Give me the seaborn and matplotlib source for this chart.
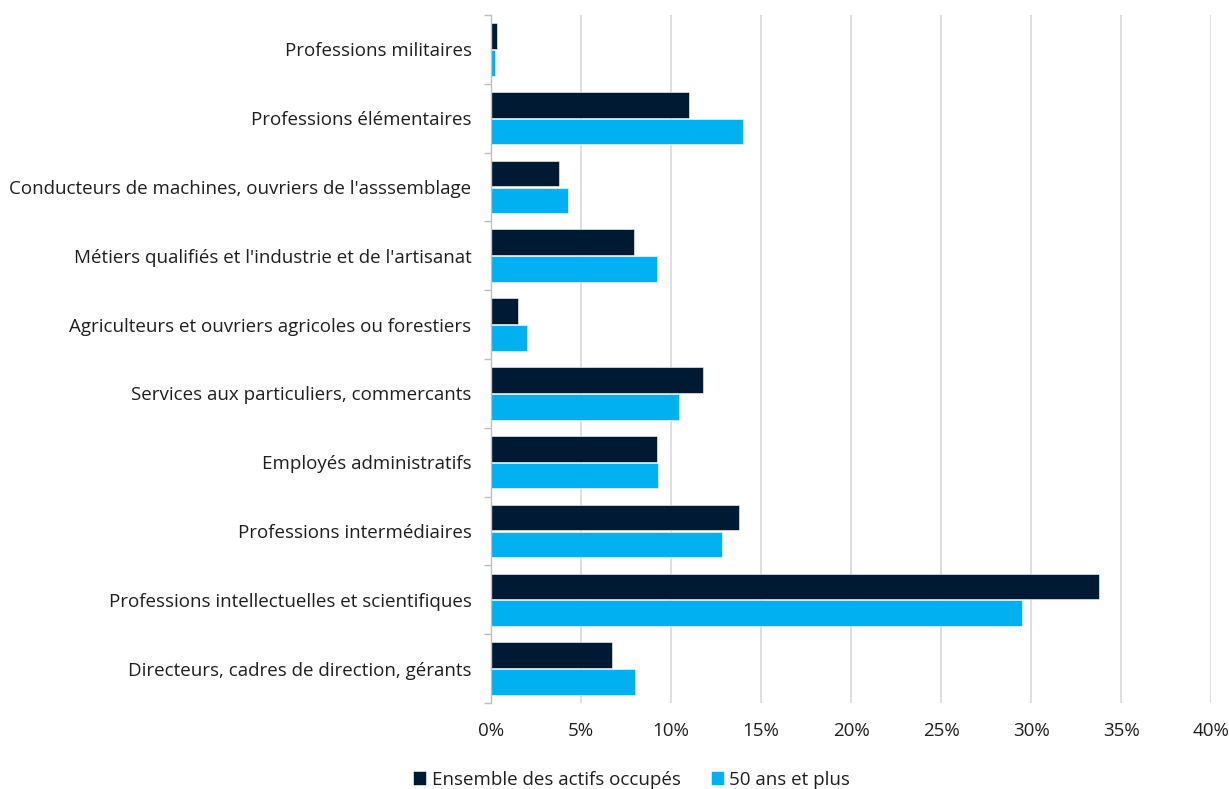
import matplotlib
matplotlib.use("Agg")
import matplotlib.pyplot as plt
from matplotlib.ticker import FixedLocator, PercentFormatter
import pandas as pd
import seaborn as sns

categories = [
    "Professions militaires",
    "Professions élémentaires",
    "Conducteurs de machines, ouvriers de l'asssemblage",
    "Métiers qualifiés et l'industrie et de l'artisanat",
    "Agriculteurs et ouvriers agricoles ou forestiers",
    "Services aux particuliers, commercants",
    "Employés administratifs",
    "Professions intermédiaires",
    "Professions intellectuelles et scientifiques",
    "Directeurs, cadres de direction, gérants",
]
ensemble = [0.35, 11.0, 3.8, 7.95, 1.5, 11.8, 9.2, 13.8, 33.75, 6.7]
plus_50 = [0.25, 14.0, 4.3, 9.2, 2.0, 10.45, 9.25, 12.85, 29.5, 8.0]
series_names = ["Ensemble des actifs occupés", "50 ans et plus"]
x_ticks = [0, 5, 10, 15, 20, 25, 30, 35, 40]

df = pd.DataFrame({
    "categorie": categories * 2,
    "valeur": ensemble + plus_50,
    "serie": [series_names[0]] * len(categories) + [series_names[1]] * len(categories),
})

sns.set_theme(style="white")
plt.rcParams["font.family"] = ["Open Sans", "DejaVu Sans"]

fig = plt.figure(figsize=(12.29, 7.89), dpi=100)
ax = fig.add_axes([0.3995, 0.109, 0.586, 0.872])

sns.barplot(
    data=df, x="valeur", y="categorie", hue="serie", orient="h",
    order=categories, hue_order=series_names,
    palette=["#001A33", "#00B0F0"], width=0.78, gap=0.04,
    edgecolor="white", linewidth=0.4, saturation=1, ax=ax,
)

ax.set_xlim(0, 40)
ax.set_ylim(len(categories) - 0.5, -0.5)
ax.xaxis.set_major_locator(FixedLocator(x_ticks))
ax.xaxis.set_major_formatter(PercentFormatter(decimals=0))
ax.grid(axis="x", color="#D9D9D9", linewidth=1.2)
ax.set_axisbelow(True)
ax.set_xlabel("")
ax.set_ylabel("")

for side in ["top", "right", "bottom"]:
    ax.spines[side].set_visible(False)
ax.spines["left"].set_color("#BFBFBF")
ax.spines["left"].set_linewidth(1.0)

text_color = "#1F1F1F"
ax.tick_params(axis="x", length=0, pad=14, labelsize=13.5, labelcolor=text_color)
ax.tick_params(axis="y", which="major", length=0, pad=14, labelsize=13.5, labelcolor=text_color)
ax.yaxis.set_minor_locator(FixedLocator([i - 0.5 for i in range(len(categories) + 1)]))
ax.tick_params(axis="y", which="minor", length=5, width=1, color="#BFBFBF", left=True)

handles, labels = ax.get_legend_handles_labels()
ax.legend(
    handles, labels, loc="lower center", bbox_to_anchor=(0.514, -0.009),
    bbox_transform=fig.transFigure, ncol=2, frameon=False, fontsize=13.5,
    handlelength=0.7, handleheight=0.7, handletextpad=0.3, columnspacing=1.6,
    labelcolor=text_color, borderaxespad=0.0,
)

fig.savefig("out.png", dpi=100)
